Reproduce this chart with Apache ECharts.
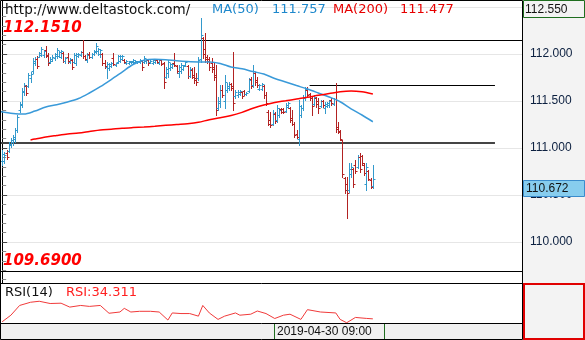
<!DOCTYPE html>
<html><head><meta charset="utf-8">
<script src="https://cdn.jsdelivr.net/npm/echarts/dist/echarts.min.js"></script>
<style>html,body{margin:0;padding:0;background:#fff}#c{width:585px;height:340px}</style>
</head><body><div id="c"></div>
<script>
// ---- DATA ----
const opens  = [110.86,110.86,110.95,110.97,111.03,111.06,111.10,111.19,111.40,111.46,111.60,111.66,111.66,111.74,111.82,111.90,111.95,111.97,111.99,111.99,112.04,111.99,111.91,111.93,111.96,111.98,111.98,111.97,112.01,111.92,111.97,111.91,111.94,111.91,111.90,111.98,111.99,112.02,111.98,111.94,
112.00,111.97,112.00,112.02,112.03,112.00,112.00,111.90,111.86,111.85,111.87,111.96,111.88,111.91,111.93,111.95,111.94,111.90,111.90,111.91,111.91,111.91,111.91,111.91,111.93,111.91,111.92,111.94,111.91,111.90,111.91,111.94,111.90,111.94,111.90,111.76,111.80,111.85,111.86,111.90,111.87,111.80,111.82,111.84,111.88,
111.87,111.77,111.83,111.78,111.74,111.74,111.95,112.17,112.05,111.97,111.95,111.90,111.86,111.78,111.42,111.48,111.62,111.50,111.62,111.64,111.68,111.66,111.55,111.56,111.57,111.60,111.61,111.57,111.61,111.73,111.67,111.80,111.72,111.63,111.63,111.66,111.56,111.38,111.30,111.25,111.36,111.30,111.35,
111.41,111.41,111.39,111.44,111.43,111.32,111.26,111.15,111.10,111.35,111.42,111.53,111.62,111.57,111.53,111.47,111.53,111.50,111.45,111.50,111.42,111.45,111.46,111.51,111.47,111.52,111.22,111.17,111.09,110.68,110.62,110.55,110.72,110.78,110.82,110.80,110.90,110.91,110.82,110.62,110.75,110.66,110.60];
const highs  = [110.98,110.96,110.98,111.06,111.11,111.14,111.21,111.35,111.49,111.64,111.69,111.67,111.80,111.81,111.96,111.97,111.98,112.02,112.07,112.04,112.08,112.01,111.97,111.99,112.01,112.06,112.03,112.04,112.02,111.97,112.01,111.96,111.95,112.01,112.01,112.01,112.03,112.15,111.99,112.01,
112.02,112.01,112.04,112.12,112.06,112.05,112.01,111.94,111.91,111.90,111.91,112.01,111.90,111.99,111.99,111.99,111.95,111.94,111.93,111.93,111.95,111.94,111.93,111.95,111.94,111.98,111.95,111.95,111.94,111.95,111.95,111.95,111.95,111.95,111.91,111.86,111.94,111.90,111.90,112.01,111.88,111.88,111.90,111.88,111.93,
111.88,111.86,111.85,111.86,111.80,111.97,112.38,112.18,112.22,111.99,111.97,111.96,111.91,111.88,111.54,111.67,111.67,111.78,111.69,111.70,111.69,112.02,111.62,111.62,111.62,111.60,111.62,111.60,111.74,111.76,111.88,111.81,111.76,111.68,111.69,111.67,111.60,111.40,111.38,111.40,111.38,111.46,111.42,
111.42,111.42,111.48,111.49,111.44,111.40,111.28,111.19,111.51,111.46,111.56,111.65,111.65,111.58,111.54,111.56,111.54,111.53,111.51,111.51,111.49,111.49,111.51,111.53,111.53,111.69,111.28,111.19,111.09,110.69,110.69,110.84,110.84,110.79,110.87,110.93,110.95,110.93,110.84,110.84,110.77,110.68,110.82];
const lows   = [110.82,110.84,110.88,110.96,111.01,111.03,111.06,111.17,111.38,111.44,111.56,111.56,111.65,111.70,111.80,111.88,111.85,111.97,111.98,111.97,111.97,111.88,111.90,111.92,111.94,111.96,111.97,111.96,111.91,111.90,111.90,111.90,111.84,111.90,111.88,111.97,111.98,111.96,111.94,111.91,
111.96,111.96,111.99,112.01,111.99,111.97,111.88,111.85,111.74,111.83,111.86,111.88,111.87,111.90,111.91,111.94,111.90,111.89,111.89,111.90,111.90,111.90,111.90,111.90,111.83,111.90,111.90,111.88,111.90,111.89,111.90,111.90,111.89,111.88,111.64,111.74,111.76,111.83,111.85,111.87,111.80,111.76,111.80,111.83,111.87,
111.74,111.76,111.74,111.69,111.67,111.72,111.91,111.96,111.91,111.90,111.83,111.81,111.72,111.35,111.40,111.44,111.54,111.43,111.60,111.62,111.62,111.40,111.53,111.54,111.56,111.53,111.56,111.56,111.60,111.64,111.65,111.67,111.65,111.62,111.62,111.53,111.46,111.24,111.22,111.24,111.27,111.28,111.33,
111.37,111.37,111.38,111.43,111.28,111.24,111.12,111.11,111.03,111.33,111.40,111.51,111.54,111.51,111.35,111.46,111.44,111.37,111.44,111.44,111.37,111.44,111.44,111.46,111.46,111.17,111.16,111.09,110.69,110.52,110.26,110.53,110.69,110.58,110.73,110.79,110.74,110.82,110.71,110.55,110.66,110.57,110.57];
const closes = [110.94,110.93,110.90,111.04,111.09,111.12,111.19,111.33,111.47,111.61,111.67,111.58,111.78,111.79,111.93,111.95,111.87,112.01,112.05,112.03,111.98,111.90,111.95,111.97,112.00,112.04,112.02,112.03,111.93,111.96,111.92,111.95,111.86,111.99,112.00,112.00,112.02,111.98,111.95,111.99,
111.97,112.00,112.03,112.09,112.05,112.04,111.90,111.87,111.89,111.89,111.90,111.89,111.90,111.98,111.98,111.98,111.91,111.93,111.92,111.92,111.94,111.93,111.92,111.94,111.86,111.96,111.94,111.90,111.93,111.94,111.94,111.91,111.94,111.89,111.70,111.84,111.91,111.89,111.89,111.88,111.82,111.86,111.88,111.87,111.91,
111.77,111.84,111.76,111.72,111.70,111.94,112.20,112.00,111.95,111.92,111.86,111.84,111.75,111.40,111.50,111.62,111.56,111.70,111.66,111.68,111.64,111.48,111.60,111.60,111.61,111.55,111.57,111.59,111.72,111.66,111.82,111.70,111.67,111.67,111.68,111.56,111.48,111.26,111.24,111.37,111.29,111.43,111.40,
111.38,111.38,111.46,111.48,111.30,111.26,111.14,111.12,111.45,111.42,111.53,111.63,111.56,111.53,111.45,111.54,111.47,111.42,111.50,111.46,111.47,111.48,111.50,111.48,111.52,111.20,111.18,111.10,110.72,110.55,110.52,110.78,110.80,110.62,110.75,110.90,110.78,110.84,110.73,110.80,110.67,110.59,110.67];

const ma50Idx  = [-1,5,10,15,20,25,30,35,40,45,50,55,60,65,70,75,80,85,90,95,100,105,110,115,120,125,130,135,140,145,150,155,160,165,170];
const ma50     = [111.388,111.367,111.361,111.393,111.436,111.460,111.489,111.526,111.585,111.652,111.728,111.808,111.888,111.933,111.943,111.938,111.927,111.919,111.915,111.915,111.899,111.861,111.842,111.813,111.787,111.739,111.702,111.664,111.627,111.585,111.542,111.492,111.417,111.351,111.279];
const ma200Idx = [13,15,20,25,30,35,40,45,50,55,60,65,70,75,80,85,90,95,100,105,110,115,120,125,130,135,140,145,150,155,160,165,170];
const ma200    = [111.085,111.095,111.117,111.133,111.148,111.159,111.175,111.191,111.200,111.210,111.217,111.223,111.231,111.241,111.250,111.258,111.273,111.301,111.322,111.345,111.379,111.422,111.457,111.484,111.502,111.521,111.539,111.560,111.579,111.598,111.606,111.597,111.574];
const rsiIdx   = [0,4,8,13,17,22,27,31,36,40,45,49,54,56,59,63,68,72,76,78,82,86,90,92,95,99,102,107,109,114,117,121,125,129,132,137,140,146,153,155,158,162,167,170];
const rsiVal   = [28.5,41.6,61.1,67.5,69.5,65,65.6,57.8,61.1,59.2,61.1,45.5,48,55.3,48,49.4,49.4,48,31.9,46.1,44.9,44.9,39.7,61.1,46.1,33.2,39.7,46.1,41.6,43.6,50,44.9,35,41.6,43.6,33.2,52.7,48,46.1,33.2,26.5,37.1,35.2,34.3];

const levelPrice = [112.151, 111.056, 111.670, 109.690];
const levelFrom  = [-1, -1, 141, -1];
const levelTo    = [238.4, 226, 226, 238.4];

const yTickLabels = ['110.000','110.500','111.000','111.500','112.000'];
const topLabel = '112.550';
const lastPrice = '110.672';
const dateLabel = '2019-04-30 09:00';

// ---- CHART ----
const UP = '#3399cc', DOWN = '#b22222';
const bars = opens.map((o, i) => [i, o, highs[i], lows[i], closes[i]]);

function renderOHLC(params, api) {
  const i = api.value(0);
  const o = api.coord([i, api.value(1)]);
  const h = api.coord([i, api.value(2)]);
  const l = api.coord([i, api.value(3)]);
  const c = api.coord([i, api.value(4)]);
  const col = api.value(4) >= api.value(1) ? UP : DOWN;
  const x = Math.round(o[0]) + 0.5;
  const st = { stroke: col, lineWidth: 1 };
  const oy = Math.round(o[1]) + 0.5, cy = Math.round(c[1]) + 0.5;
  return { type: 'group', children: [
    { type: 'line', shape: { x1: x, y1: Math.round(h[1]), x2: x, y2: Math.round(l[1]) + 1 }, style: st },
    { type: 'line', shape: { x1: x - 2, y1: oy, x2: x, y2: oy }, style: st },
    { type: 'line', shape: { x1: x, y1: cy, x2: x + 2, y2: cy }, style: st }
  ]};
}

const levelStyles = [
  { color: '#000', width: 1 }, { color: '#444', width: 2 }, { color: '#000', width: 1 }, { color: '#000', width: 1 }
];

const chart = echarts.init(document.getElementById('c'), null, { renderer: 'canvas' });
const F = 'DejaVu Sans';
chart.setOption({
  animation: false,
  backgroundColor: '#fff',
  grid: [
    { left: 0, top: 0, width: 522, height: 283 },
    { left: 0, top: 284, width: 522, height: 39 }
  ],
  xAxis: [
    { type: 'value', gridIndex: 0, min: -1, max: 238.4, show: false },
    { type: 'value', gridIndex: 1, min: -1, max: 238.4, show: false }
  ],
  yAxis: [
    { type: 'value', gridIndex: 0, position: 'right', min: 109.564, max: 112.574,
      splitNumber: 6, minInterval: 0.5, maxInterval: 0.5,
      axisLine: { show: true, lineStyle: { color: '#000' } },
      axisTick: { show: true, length: 5, lineStyle: { color: '#444' } },
      minorTick: { show: true, splitNumber: 5, length: 4, lineStyle: { color: '#888' } },
      axisLabel: { margin: 8, color: '#0b1f3f', fontFamily: 'Liberation Sans', fontSize: 12,
        formatter: v => { const s = v.toFixed(3); return yTickLabels.indexOf(s) >= 0 ? s : ''; } },
      splitLine: { show: true, lineStyle: { color: '#e6e6e6' } }
    },
    { type: 'value', gridIndex: 1, min: 26, max: 104, show: false }
  ],
  series: [
    { type: 'custom', xAxisIndex: 0, yAxisIndex: 0, renderItem: renderOHLC, data: bars,
      encode: { x: 0, y: [1, 2, 3, 4] }, clip: true, z: 3,
      markLine: { silent: true, symbol: 'none', label: { show: false }, z: 2,
        data: levelPrice.map((p, k) => [
          { coord: [levelFrom[k], p], lineStyle: { color: levelStyles[k].color, width: levelStyles[k].width, type: 'solid' } },
          { coord: [levelTo[k], p] }
        ]) }
    },
    { type: 'line', xAxisIndex: 0, yAxisIndex: 0, data: ma50Idx.map((x, k) => [x, ma50[k]]),
      smooth: 0.3, showSymbol: false, lineStyle: { color: '#3a9ad9', width: 1.5 }, z: 4 },
    { type: 'line', xAxisIndex: 0, yAxisIndex: 0, data: ma200Idx.map((x, k) => [x, ma200[k]]),
      smooth: 0.3, showSymbol: false, lineStyle: { color: '#ff0000', width: 1.5 }, z: 4 },
    { type: 'line', xAxisIndex: 1, yAxisIndex: 1, data: rsiIdx.map((x, k) => [x, rsiVal[k]]),
      showSymbol: false, lineStyle: { color: '#f03a3a', width: 1 }, z: 4 }
  ],
  graphic: [
    { type: 'rect', z: -10, shape: { x: 523, y: 0, width: 62, height: 283 }, style: { fill: '#f3f3f3' } },
    { type: 'rect', z: -10, shape: { x: 0, y: 323, width: 522, height: 17 }, style: { fill: '#f0f0f0' } },
    { type: 'rect', z: 50, shape: { x: 524, y: 284, width: 60, height: 55 }, style: { fill: '#f3f3f3', stroke: '#e00000', lineWidth: 2 } },
    { type: 'rect', z: 60, shape: { x: 0.5, y: 0.5, width: 522, height: 339 }, style: { fill: null, stroke: '#000', lineWidth: 1 } },
    { type: 'line', z: 60, shape: { x1: 0, y1: 283.5, x2: 523, y2: 283.5 }, style: { stroke: '#000', lineWidth: 1 } },
    { type: 'line', z: 60, shape: { x1: 0, y1: 323.5, x2: 523, y2: 323.5 }, style: { stroke: '#000', lineWidth: 1 } },
    { type: 'rect', z: 55, shape: { x: 523.5, y: 0.5, width: 61, height: 17 }, style: { fill: '#f3f3f3', stroke: '#1f6e1f', lineWidth: 1 } },
    { type: 'text', z: 56, x: 525, y: 9.5, style: { text: topLabel, font: '12px "Liberation Sans"', fill: '#111', textVerticalAlign: 'middle' } },
    { type: 'rect', z: 55, shape: { x: 523.5, y: 180.5, width: 61, height: 16 }, style: { fill: '#87cdee', stroke: '#3a8ccc', lineWidth: 1 } },
    { type: 'text', z: 56, x: 526, y: 189, style: { text: lastPrice, font: '12px "Liberation Sans"', fill: '#111', textVerticalAlign: 'middle' } },
    { type: 'rect', z: 55, shape: { x: 274.5, y: 323.5, width: 110, height: 16 }, style: { fill: '#f0f0f0', stroke: '#1f6e1f', lineWidth: 1 } },
    { type: 'text', z: 56, x: 277, y: 332, style: { text: dateLabel, font: '12px "Liberation Sans"', fill: '#111', textVerticalAlign: 'middle' } },
    { type: 'text', z: 56, x: 5, y: 10, style: { text: 'http://www.deltastock.com/', font: '13.5px "' + F + '"', fill: '#111', textVerticalAlign: 'middle' } },
    { type: 'text', z: 56, x: 212, y: 10, style: { text: 'MA(50)', font: '13px "' + F + '"', fill: '#1e88cc', textVerticalAlign: 'middle' } },
    { type: 'text', z: 56, x: 272, y: 10, style: { text: '111.757', font: '13px "' + F + '"', fill: '#1e88cc', textVerticalAlign: 'middle' } },
    { type: 'text', z: 56, x: 333, y: 10, style: { text: 'MA(200)', font: '13px "' + F + '"', fill: '#e60000', textVerticalAlign: 'middle' } },
    { type: 'text', z: 56, x: 400, y: 10, style: { text: '111.477', font: '13px "' + F + '"', fill: '#e60000', textVerticalAlign: 'middle' } },
    { type: 'text', z: 56, x: 3, y: 28, style: { text: '112.1510', font: 'italic bold 15px "' + F + '"', fill: '#ff0000', textVerticalAlign: 'middle' } },
    { type: 'text', z: 56, x: 3, y: 261, style: { text: '109.6900', font: 'italic bold 15px "' + F + '"', fill: '#ff0000', textVerticalAlign: 'middle' } },
    { type: 'text', z: 56, x: 5, y: 293, style: { text: 'RSI(14)', font: '13px "' + F + '"', fill: '#111', textVerticalAlign: 'middle' } },
    { type: 'text', z: 56, x: 66, y: 293, style: { text: 'RSI:34.311', font: '13px "' + F + '"', fill: '#ff2020', textVerticalAlign: 'middle' } }
  ]
});
</script></body></html>
